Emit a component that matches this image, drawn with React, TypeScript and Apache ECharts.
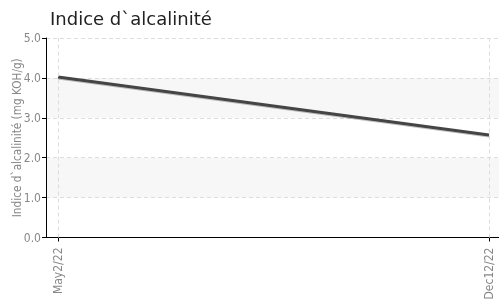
import React, { useEffect, useRef } from "react";
import * as echarts from "echarts";

const dates = ["2022-05-02", "2022-12-12"];
const values = [4.02, 2.57];
const yTicks = [0, 1, 2, 3, 4, 5];
const months = ["Jan", "Feb", "Mar", "Apr", "May", "Jun", "Jul", "Aug", "Sep", "Oct", "Nov", "Dec"];

const DAY = 86400000;
const narrow = "'DejaVu Sans Condensed', 'Liberation Sans Narrow', sans-serif";

export default function App() {
  const ref = useRef<HTMLDivElement>(null);
  useEffect(() => {
    const chart = echarts.init(ref.current!, null, { renderer: "svg" });
    const ts = dates.map((d) => Date.parse(d + "T00:00:00Z"));
    const days = ts.map((t) => (t - ts[0]) / DAY);
    const fmt = (v: number) => {
      const d = new Date(ts[0] + Math.round(v) * DAY);
      return months[d.getUTCMonth()] + d.getUTCDate() + "/" + String(d.getUTCFullYear()).slice(2);
    };
    chart.setOption({
      animation: false,
      title: {
        text: "Indice d`alcalinité",
        left: 45,
        top: 4,
        textStyle: { fontFamily: "'DejaVu Sans', sans-serif", fontSize: 18, fontWeight: "normal", color: "#222" },
      },
      grid: { left: 46, right: 0, top: 38, bottom: 63.5, outerBoundsMode: "none", containLabel: false },
      xAxis: {
        type: "value",
        min: days[0] - 6.24,
        max: days[days.length - 1] + 5.2,
        axisLine: { onZero: false, lineStyle: { color: "#000", width: 1 } },
        axisTick: { show: true, customValues: days, length: 4, lineStyle: { color: "#000" } },
        axisLabel: {
          customValues: days,
          rotate: 90,
          formatter: (v: number) => fmt(v),
          color: "#888",
          fontFamily: narrow,
          fontSize: 12,
          margin: 10,
          showMinLabel: true,
          showMaxLabel: true,
        },
        splitLine: { show: false },
      },
      yAxis: {
        type: "value",
        min: yTicks[0],
        max: yTicks[yTicks.length - 1],
        interval: 1,
        name: "Indice d`alcalinité (mg KOH/g)",
        nameLocation: "middle",
        nameGap: 23,
        nameMoveOverlap: false,
        nameTextStyle: { color: "#888", fontFamily: narrow, fontSize: 11.7 },
        axisLine: { show: true, onZero: false, lineStyle: { color: "#000", width: 1 } },
        axisTick: { show: true, length: 4, lineStyle: { color: "#000" } },
        axisLabel: {
          formatter: (v: number) => v.toFixed(1),
          color: "#888",
          fontFamily: narrow,
          fontSize: 12,
          margin: 5,
        },
        splitLine: { show: true, lineStyle: { color: "#ddd", type: [4, 3] } },
        splitArea: { show: true, areaStyle: { color: ["#ffffff", "#f7f7f7"] } },
      },
      series: [
        {
          type: "line",
          data: days.map((d, i) => [d, values[i]]),
          symbol: "none",
          lineStyle: { color: "#444", width: 3, shadowColor: "rgba(0,0,0,0.25)", shadowBlur: 1, shadowOffsetY: 1 },
          markLine: {
            silent: true,
            symbol: "none",
            label: { show: false },
            lineStyle: { color: "#ddd", type: [4, 3], width: 1 },
            data: days.map((d) => ({ xAxis: d })),
          },
          z: 3,
        },
      ],
    });
    return () => chart.dispose();
  }, []);
  return <div ref={ref} style={{ position: "fixed", left: 0, top: 0, width: 499, height: 301 }} />;
}
